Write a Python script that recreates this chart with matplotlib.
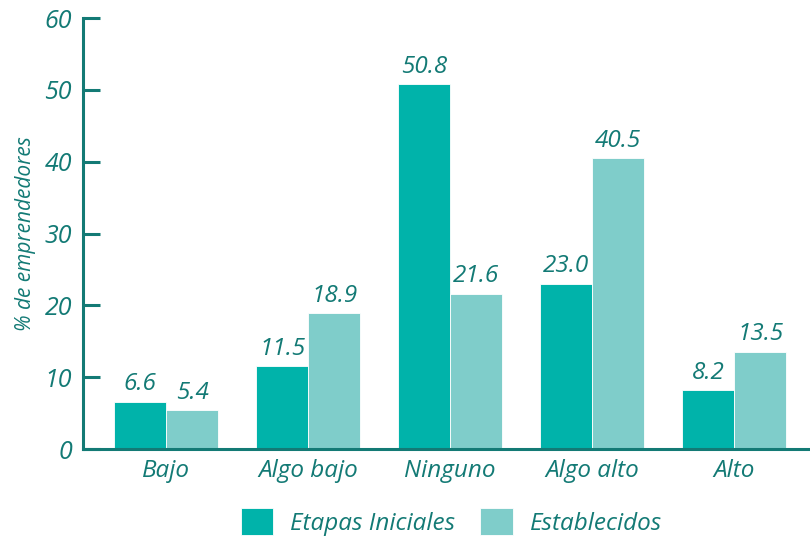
import matplotlib.pyplot as plt
import numpy as np

categories = ["Bajo", "Algo bajo", "Ninguno", "Algo alto", "Alto"]
series_names = ["Etapas Iniciales", "Establecidos"]
etapas = [6.6, 11.5, 50.8, 23.0, 8.2]
establecidos = [5.4, 18.9, 21.6, 40.5, 13.5]
yticks = [0, 10, 20, 30, 40, 50, 60]

DARK = "#00b3aa"
LIGHT = "#7fcdca"
TEXT = "#137a75"

plt.rcParams["font.family"] = ["Open Sans", "DejaVu Sans"]

fig = plt.figure(figsize=(8.1, 5.38), dpi=100)
ax = fig.add_axes([0.1025, 0.1654, 0.895, 0.801])

x = np.arange(len(categories))
w = 0.366
b1 = ax.bar(x - w / 2, etapas, w, color=DARK, edgecolor="white", linewidth=0.6,
            label=series_names[0])
b2 = ax.bar(x + w / 2, establecidos, w, color=LIGHT, edgecolor="white", linewidth=0.6,
            label=series_names[1])

for bars in (b1, b2):
    ax.bar_label(bars, labels=[f"{v:.1f}" for v in bars.datavalues], padding=4,
                 fontsize=17.5, style="italic", color=TEXT)

ax.set_xlim(-0.585, 4.52)
ax.set_ylim(0, 60)
ax.set_yticks(yticks)
ax.set_xticks(x)
ax.set_xticklabels(categories)

for s in ("top", "right"):
    ax.spines[s].set_visible(False)
for s in ("left", "bottom"):
    ax.spines[s].set_color(TEXT)
    ax.spines[s].set_linewidth(2.2)

ax.tick_params(axis="y", direction="in", length=12, width=2.2, color=TEXT,
               labelcolor=TEXT, labelsize=18, pad=8)
ax.tick_params(axis="x", length=0, labelcolor=TEXT, labelsize=17.5, pad=7)
for lab in ax.get_xticklabels() + ax.get_yticklabels():
    lab.set_style("italic")

ax.set_ylabel("% de emprendedores", fontsize=15, style="italic", color=TEXT,
              labelpad=6)

leg = fig.legend(loc="center", bbox_to_anchor=(0.557, 0.03), ncol=2, frameon=False,
                 handlelength=1.35, handleheight=1.35, handletextpad=0.7,
                 columnspacing=1.0, prop={"size": 17.5, "style": "italic"})
for t in leg.get_texts():
    t.set_color(TEXT)

fig.savefig("out.png", dpi=100)
